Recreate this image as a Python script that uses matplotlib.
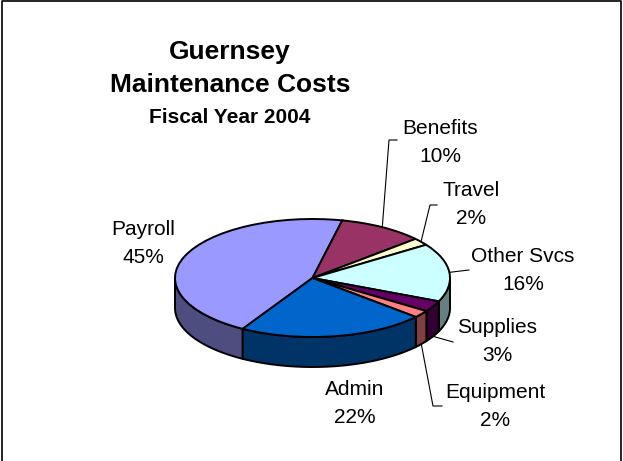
import numpy as np
import matplotlib.pyplot as plt
import matplotlib.colors as mcolors
from matplotlib.patches import Wedge, Polygon
from matplotlib.transforms import Affine2D

# data
categories = ['Payroll', 'Benefits', 'Travel', 'Other Svcs', 'Supplies', 'Equipment', 'Admin']
values = [45, 10, 2, 16, 3, 2, 22]
colors = ['#9999FF', '#993366', '#FFFFCC', '#CCFFFF', '#660066', '#FF8080', '#0066CC']

# pie geometry (pixels)
cx, cy = 312.5, 278
A, B = 137.5, 59
D = 30
start = 239.5  # first slice starts here, drawn clockwise

# label positions (center of name line) and leader elbows
label_pos = {
    'Payroll': (143, 229),
    'Benefits': (440, 128),
    'Travel': (471, 190),
    'Other Svcs': (523, 256),
    'Supplies': (497, 327),
    'Equipment': (495, 392),
    'Admin': (355, 389),
}
leaders = {
    'Benefits': [(397, 140), (389, 140)],
    'Travel': [(437, 205), (430, 205)],
    'Other Svcs': [(469, 270)],
    'Supplies': [(453, 342)],
    'Equipment': [(442, 406), (433, 406)],
}

fig = plt.figure(figsize=(6.23, 4.61), dpi=100)
ax = fig.add_axes([0, 0, 1, 1])
ax.set_xlim(0, 623)
ax.set_ylim(461, 0)
ax.axis('off')

# frame
ax.plot([1.5, 1.5, 621, 621], [462, 1.5, 1.5, 462], color='black', lw=1.2, clip_on=False)

fracs = np.array(values, dtype=float) / sum(values)
hi = start - np.concatenate([[0], np.cumsum(fracs)[:-1]]) * 360
lo = hi - fracs * 360


def ell(t, dy=0):
    r = np.radians(t)
    return cx + A * np.cos(r), cy - B * np.sin(r) + dy


# side walls (front half only)
for i in range(len(values)):
    side = np.array(mcolors.to_rgb(colors[i])) * 0.5
    for k in (-1, 0, 1):
        a = max(lo[i], -180 + 360 * k)
        b = min(hi[i], 360 * k)
        if b - a <= 0:
            continue
        t = np.linspace(a, b, 60)
        xt, yt = ell(t)
        xb, yb = ell(t[::-1], D)
        pts = np.column_stack([np.concatenate([xt, xb]), np.concatenate([yt, yb])])
        ax.add_patch(Polygon(pts, closed=True, facecolor=side, edgecolor='black', lw=1.4, zorder=2))

# top faces
tr = Affine2D().scale(A, -B).translate(cx, cy) + ax.transData
for i in range(len(values)):
    w = Wedge((0, 0), 1, lo[i], hi[i], facecolor=colors[i], edgecolor='black', lw=1.4,
              transform=tr, zorder=3)
    ax.add_patch(w)

# labels
font = dict(family='Liberation Sans', fontsize=15, ha='center', va='center', zorder=5)
for i, name in enumerate(categories):
    x, y = label_pos[name]
    ax.text(x, y, name, **font)
    ax.text(x, y + 28, f'{values[i]}%', **font)
    if name in leaders:
        mid = (lo[i] + hi[i]) / 2
        dy = D if np.sin(np.radians(mid)) < 0 else 0
        px, py = ell(mid, dy)
        pts = leaders[name] + [(px, py)]
        ax.plot([p[0] for p in pts], [p[1] for p in pts], color='black', lw=0.8, zorder=4)

# title
ax.text(230, 52, 'Guernsey', family='Liberation Sans', fontsize=19, fontweight='bold',
        ha='center', va='center')
ax.text(230, 85, 'Maintenance Costs', family='Liberation Sans', fontsize=19, fontweight='bold',
        ha='center', va='center')
ax.text(230, 117, 'Fiscal Year 2004', family='Liberation Sans', fontsize=15, fontweight='bold',
        ha='center', va='center')

fig.savefig('out.png', dpi=100)
